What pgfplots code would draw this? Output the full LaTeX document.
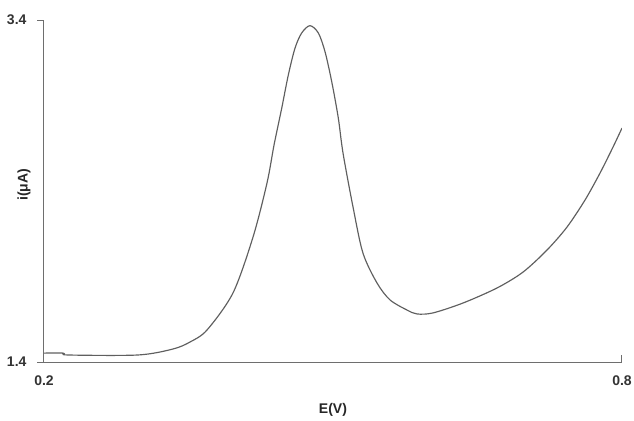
\documentclass[border=0pt]{standalone}
\usepackage{fontspec}
\setmainfont{Liberation Sans}
\usepackage{pgfplots}
\pgfplotsset{compat=1.18}
\definecolor{curvegray}{RGB}{95,95,95}
\definecolor{axisgray}{RGB}{110,110,110}

\begin{document}
\begin{tikzpicture}
\begin{axis}[
  scale only axis,
  width=346.8pt, height=205.2pt,
  xmin=0.2, xmax=0.8, ymin=1.4, ymax=3.4,
  axis x line*=bottom, axis y line*=left,
  axis line style={axisgray, line width=0.6pt},
  xtick={0.2,0.8}, ytick={1.4,3.4},
  xticklabels={0.2,0.8}, yticklabels={1.4,3.4},
  xtick align=inside, ytick align=outside,
  major tick length=4pt,
  tick style={axisgray, line width=0.6pt},
  tick label style={font=\fontsize{8.4}{10}\selectfont\bfseries, color=black!80},
  /pgf/number format/assume math mode=true,
  xticklabel style={yshift=-5pt},
  yticklabel style={xshift=-3pt},
  xlabel={E(V)}, ylabel={i(μA)},
  label style={font=\fontsize{8.4}{10}\selectfont\bfseries, color=black!85},
  xlabel style={at={(rel axis cs:0.5,0)}, anchor=center, yshift=-28.8pt},
  ylabel style={at={(rel axis cs:0,0.518)}, anchor=center, yshift=12pt},
]
\addplot[curvegray, line width=0.7pt, smooth, tension=0.5] coordinates {
  (0.2000,1.452) (0.2200,1.452) (0.2250,1.441) (0.2976,1.441)
  (0.3339,1.476) (0.3516,1.517) (0.3692,1.587)
  (0.3962,1.804) (0.4170,2.131)
  (0.4315,2.447) (0.4388,2.669) (0.4468,2.885) (0.4536,3.078)
  (0.4606,3.236) (0.4675,3.324) (0.4761,3.367) (0.4848,3.324)
  (0.4917,3.215) (0.4987,3.039) (0.5055,2.827) (0.5104,2.622)
  (0.5208,2.306) (0.5311,2.037) (0.5457,1.862)
  (0.5592,1.763) (0.5768,1.704) (0.5872,1.681) (0.6038,1.687)
  (0.6350,1.745) (0.6703,1.833) (0.6973,1.926) (0.7222,2.055)
  (0.7429,2.189) (0.7616,2.347) (0.7772,2.505) (0.7907,2.657)
  (0.8000,2.768)
};
\end{axis}
\pgfresetboundingbox
\useasboundingbox (-26.4pt,-34.8pt) rectangle (354pt,217.2pt);
\end{tikzpicture}
\end{document}
